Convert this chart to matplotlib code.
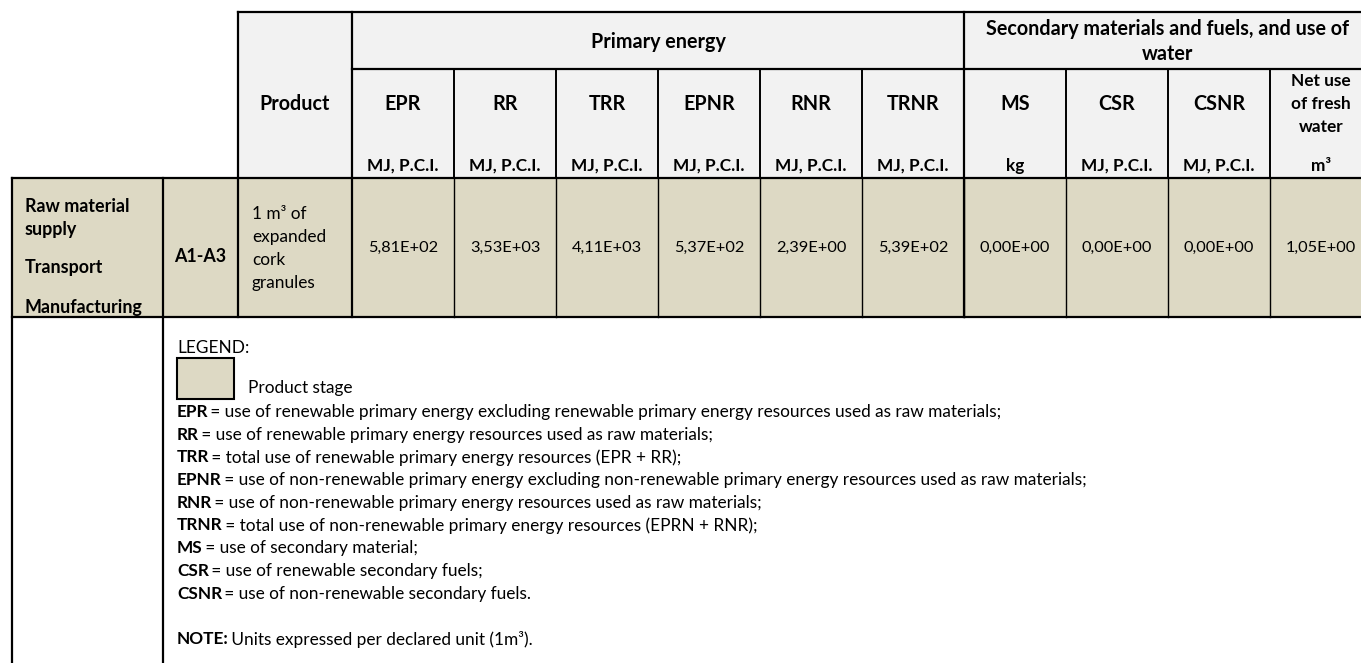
import matplotlib.pyplot as plt
from matplotlib.patches import Rectangle

# table content
stage_labels = ['Raw material\nsupply', 'Transport', 'Manufacturing']
module = 'A1-A3'
product = '1 m³ of\nexpanded\ncork\ngranules'
groups = ['Primary energy', 'Secondary materials and fuels, and use of\nwater']
group_sizes = [6, 4]
indicators = ['EPR', 'RR', 'TRR', 'EPNR', 'RNR', 'TRNR', 'MS', 'CSR', 'CSNR', 'Net use\nof fresh\nwater']
units = ['MJ, P.C.I.', 'MJ, P.C.I.', 'MJ, P.C.I.', 'MJ, P.C.I.', 'MJ, P.C.I.', 'MJ, P.C.I.',
         'kg', 'MJ, P.C.I.', 'MJ, P.C.I.', 'm³']
values = [5.81e2, 3.53e3, 4.11e3, 5.37e2, 2.39e0, 5.39e2, 0.0, 0.0, 0.0, 1.05e0]

legend_terms = ['EPR', 'RR', 'TRR', 'EPNR', 'RNR', 'TRNR', 'MS', 'CSR', 'CSNR']
legend_defs = [
    ' = use of renewable primary energy excluding renewable primary energy resources used as raw materials;',
    ' = use of renewable primary energy resources used as raw materials;',
    ' = total use of renewable primary energy resources (EPR + RR);',
    ' = use of non-renewable primary energy excluding non-renewable primary energy resources used as raw materials;',
    ' = use of non-renewable primary energy resources used as raw materials;',
    ' = total use of non-renewable primary energy resources (EPRN + RNR);',
    ' = use of secondary material;',
    ' = use of renewable secondary fuels;',
    ' = use of non-renewable secondary fuels.',
]
stage_name = 'Product stage'
note = ('NOTE:', ' Units expressed per declared unit (1m³).')

HEAD = '#F2F2F2'
TAN = '#DDD9C4'
FONT = 'Lato'
SZ = 12.4    # regular text
VSZ = 11.8   # numbers
BSZ = 14.2   # bold headers

W, H = 1361, 663
fig = plt.figure(figsize=(W / 100, H / 100), dpi=100)
ax = fig.add_axes([0, 0, 1, 1])
ax.set_xlim(0, W)
ax.set_ylim(H, 0)
ax.axis('off')
plt.rcParams['font.family'] = [FONT, 'DejaVu Sans']

# column grid
col0 = 352
cw = 102
edges = [col0 + cw * i for i in range(len(indicators) + 1)]
top, mid, hbot, dbot = 12, 69, 178, 317

ax.add_patch(Rectangle((238, top), W - 238, hbot - top, color=HEAD, lw=0))
ax.add_patch(Rectangle((12, hbot), W - 12, dbot - hbot, color=TAN, lw=0))


def line(x0, y0, x1, y1, lw=1.6):
    ax.plot([x0, x1], [y0, y1], color='black', lw=lw, solid_capstyle='projecting')


def stacked(x, yc, txt, gap, **kw):
    rows = txt.split('\n')
    for i, r in enumerate(rows):
        ax.text(x, yc + (i - (len(rows) - 1) / 2) * gap, r, va='center', **kw)


# borders
line(238, top, W, top)
line(352, mid, W, mid)
line(12, hbot, W, hbot)
line(12, dbot, W, dbot)
line(238, top, 238, dbot)
line(352, top, 352, dbot)
line(12, hbot, 12, H)
line(163, hbot, 163, H)
g = 0
for s in group_sizes[:-1]:
    g += s
    line(edges[g], top, edges[g], dbot)
for e in edges[1:]:
    line(e, mid, e, hbot, lw=1.4)
    line(e, hbot, e, dbot, lw=1.0)

# header texts
ax.text(295, 104, 'Product', ha='center', va='center', fontsize=BSZ, fontweight='bold')
start = 0
for name, n in zip(groups, group_sizes):
    xc = (edges[start] + edges[start + n]) / 2
    stacked(xc, 41.5, name, 25, ha='center', fontsize=BSZ, fontweight='bold')
    start += n
for i, (ind, u, v) in enumerate(zip(indicators, units, values)):
    xc = (edges[i] + edges[i + 1]) / 2
    stacked(xc, 104, ind, 23, ha='center', fontsize=BSZ if '\n' not in ind else SZ,
            fontweight='bold')
    ax.text(xc, 166, u, ha='center', va='center', fontsize=SZ, fontweight='bold')
    ax.text(xc, 248, f'{v:.2E}'.replace('.', ','), ha='center', va='center', fontsize=VSZ)

# data row labels
for lab, y in zip(stage_labels, [218, 267, 307]):
    stacked(25, y, lab, 24, ha='left', fontsize=12.9, fontweight='bold')
ax.text(200, 257, module, ha='center', va='center', fontsize=12.9, fontweight='bold')
stacked(252, 248.5, product, 23, ha='left', fontsize=SZ)

# legend block
r = fig.canvas.get_renderer()


def rich(x, y, bold, rest):
    t = ax.text(x, y, bold, va='center', fontsize=SZ, fontweight='bold')
    w = t.get_window_extent(renderer=r).width
    ax.text(x + w - 2, y, rest, va='center', fontsize=SZ)


ax.text(177, 348, 'LEGEND:', va='center', fontsize=SZ)
ax.add_patch(Rectangle((177, 358), 57, 41, facecolor=TAN, edgecolor='black', lw=1.5))
ax.text(248, 388, stage_name, va='center', fontsize=SZ)
step = 22.7
for i, (term, d) in enumerate(zip(legend_terms, legend_defs)):
    rich(177, 412 + i * step, term, d)
rich(177, 412 + (len(legend_terms) + 1) * step, note[0], note[1])

fig.savefig('out.png', dpi=100)
